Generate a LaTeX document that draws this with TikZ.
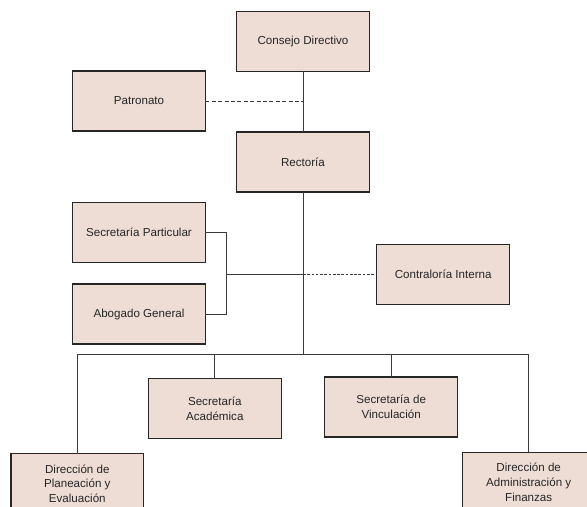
\documentclass[tikz,border=0pt]{standalone}
\usepackage{fontspec}
\setmainfont{Liberation Sans}
\definecolor{boxfill}{HTML}{EEDDD4}
\definecolor{linegray}{HTML}{3A3A3A}
\begin{document}
\begin{tikzpicture}[x=0.75pt,y=-0.75pt,
  orgbox/.style={draw=black!85, line width=0.8pt, fill=boxfill, minimum width=99.5pt,
    minimum height=45pt, inner sep=0pt, outer sep=0pt, align=center,
    font=\fontsize{8.7}{11}\selectfont, text=black!85},
  conn/.style={draw=linegray, line width=0.7pt},
  dashconn/.style={conn, dash pattern=on 3pt off 1.8pt},
  finedash/.style={conn, dash pattern=on 2pt off 1.2pt}]
\useasboundingbox (0,0) rectangle (587,507);
\clip (0,0) rectangle (587,507);
\node[orgbox] (consejo) at (303,41.3) {Consejo Directivo};
\node[orgbox] (patronato) at (139,101) {Patronato};
\node[orgbox] (rectoria) at (303,162) {Rectoría};
\node[orgbox] (secpart) at (139,232.5) {Secretaría Particular};
\node[orgbox] (abogado) at (139,314) {Abogado General};
\node[orgbox] (contraloria) at (443.2,274.2) {Contraloría Interna};
\node[orgbox] (secacad) at (214.8,408.5) {Secretaría\\Académica};
\node[orgbox] (secvinc) at (391.2,407) {Secretaría de\\Vinculación};
\node[orgbox] (dirplan) at (77.3,483.7) {Dirección de\\Planeación y\\Evaluación};
\node[orgbox] (diradm) at (528.7,482.3) {Dirección de\\Administración y\\Finanzas};
\coordinate (bus) at (303,354.5);
\coordinate (br) at (226.7,274.2);
\draw[conn] (consejo) -- (rectoria);
\draw[dashconn] (patronato.east) -- (patronato.east -| consejo.south);
\draw[conn] (rectoria.south) -- (bus);
\draw[conn] (secpart.east) -| (br) |- (abogado.east);
\draw[conn] (br) -- (br -| rectoria.south);
\draw[finedash] (br -| rectoria.south) -- (contraloria.west);
\draw[conn] (dirplan.north) |- (bus) -| (diradm.north);
\draw[conn] (secacad.north) -- (secacad.north |- bus);
\draw[conn] (secvinc.north) -- (secvinc.north |- bus);
\end{tikzpicture}
\end{document}
